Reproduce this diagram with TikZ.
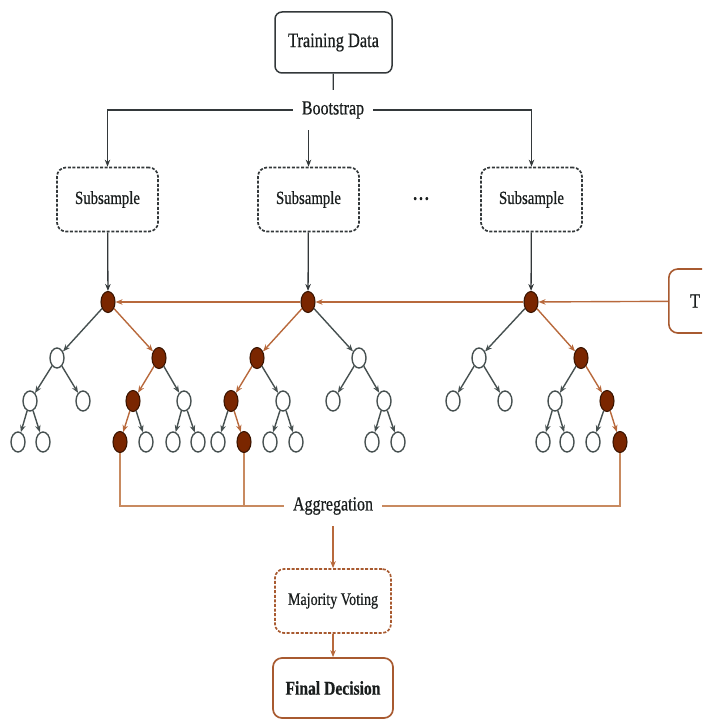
\documentclass[tikz,border=0pt]{standalone}
\usepackage{fontspec}
\setmainfont{Liberation Serif}[FakeStretch=0.8, FakeBold=0.6]
\usetikzlibrary{shapes.geometric,arrows.meta}

\definecolor{ink}{HTML}{1A1E1E}
\definecolor{darkline}{HTML}{33383A}
\definecolor{treegray}{HTML}{465050}
\definecolor{nodefill}{HTML}{7A2600}
\definecolor{nodeedge}{HTML}{3A1400}
\definecolor{brownline}{HTML}{B8693C}
\definecolor{aggline}{HTML}{C88A60}
\definecolor{brownbox}{HTML}{A85A30}

\tikzset{
  every node/.style={text=ink},
  txt/.style={font=\fontsize{20}{22}\selectfont},
  solidbox/.style={draw=darkline, line width=1.5pt, rounded corners=7pt, fill=white,
    minimum width=117pt, minimum height=61pt, font=\fontsize{20.5}{22}\selectfont},
  sampbox/.style={draw=darkline, line width=1.7pt, dash pattern=on 3pt off 1.6pt,
    rounded corners=9pt, fill=white, minimum width=101pt, minimum height=64pt,
    font=\fontsize{18.5}{20}\selectfont},
  votebox/.style={draw=brownbox, line width=1.7pt, dash pattern=on 3pt off 1.6pt,
    rounded corners=9pt, fill=white, minimum width=116pt, minimum height=64pt,
    font=\fontsize{17.6}{20}\selectfont},
  decbox/.style={draw=brownbox, line width=1.7pt, rounded corners=9pt, fill=white,
    minimum width=120pt, minimum height=60pt, font=\bfseries\fontsize{19.5}{22}\selectfont},
  label/.style={fill=white, inner xsep=9pt, inner ysep=0pt, minimum height=40pt,
    font=\fontsize{20}{22}\selectfont},
  wn/.style={ellipse, draw=treegray, fill=white, line width=1.4pt,
    minimum width=14pt, minimum height=20pt, inner sep=0pt},
  bn/.style={ellipse, draw=nodeedge, fill=nodefill, line width=1.1pt,
    minimum width=14pt, minimum height=21pt, inner sep=0pt},
  tip/.style={-{Stealth[length=7pt,width=5.5pt]}},
  gedge/.style={tip, draw=treegray, line width=1.4pt},
  bedge/.style={tip, draw=brownline, line width=1.4pt},
  topline/.style={draw=darkline, line width=1.3pt},
  aggl/.style={draw=aggline, line width=1.6pt},
}

\begin{document}
\begin{tikzpicture}[x=1pt, y=-1pt]
\useasboundingbox (0,0) rectangle (702,719);
\clip (0,0) rectangle (702,719);

% ---------- bootstrap stage ----------
\node[solidbox] (td) at (333.5,42.5) {Training Data};
\node[label] (bs) at (333,110) {Bootstrap};
\draw[topline] (td) -- (bs);

\node[sampbox] (ss1) at (107.5,199.5) {Subsample};
\node[sampbox] (ss2) at (308.5,199.5) {Subsample};
\node[sampbox] (ss3) at (531.5,199.5) {Subsample};
\node[font=\fontsize{13}{13}\selectfont, inner sep=0pt] (dots) at (421,200)
  {•\hspace{2.2pt}•\hspace{2.2pt}•};

\draw[topline, tip] (bs.west) -| (ss1);
\draw[topline, tip] (bs.east) -| (ss3);
\draw[topline, tip] (bs.south -| ss2.north) -- (ss2);

% ---------- tree 1 ----------
\node[bn] (A) at (108,302) {};
\node[wn] (AL) at (57,358) {};
\node[bn] (AR) at (159,358) {};
\node[wn] (ALL) at (30,401) {};
\node[wn] (ALR) at (83,401) {};
\node[bn] (ARL) at (133,401) {};
\node[wn] (ARR) at (184,401) {};
\node[wn] (ALLL) at (18,442) {};
\node[wn] (ALLR) at (43,442) {};
\node[bn] (ARLL) at (120,442) {};
\node[wn] (ARLR) at (146,442) {};
\node[wn] (ARRL) at (173,442) {};
\node[wn] (ARRR) at (198,442) {};

\draw[gedge] (A) -- (AL);
\draw[bedge] (A) -- (AR);
\draw[gedge] (AL) -- (ALL);
\draw[gedge] (AL) -- (ALR);
\draw[bedge] (AR) -- (ARL);
\draw[gedge] (AR) -- (ARR);
\draw[gedge] (ALL) -- (ALLL);
\draw[gedge] (ALL) -- (ALLR);
\draw[bedge] (ARL) -- (ARLL);
\draw[gedge] (ARL) -- (ARLR);
\draw[gedge] (ARR) -- (ARRL);
\draw[gedge] (ARR) -- (ARRR);

% ---------- tree 2 ----------
\node[bn] (B) at (308,302) {};
\node[bn] (BL) at (257,358) {};
\node[wn] (BR) at (359,358) {};
\node[bn] (BLL) at (231,401) {};
\node[wn] (BLR) at (283,401) {};
\node[wn] (BRL) at (333,401) {};
\node[wn] (BRR) at (384,401) {};
\node[wn] (BLLL) at (218,442) {};
\node[bn] (BLLR) at (244,442) {};
\node[wn] (BLRL) at (270,442) {};
\node[wn] (BLRR) at (296,442) {};
\node[wn] (BRRL) at (372,442) {};
\node[wn] (BRRR) at (398,442) {};

\draw[bedge] (B) -- (BL);
\draw[gedge] (B) -- (BR);
\draw[bedge] (BL) -- (BLL);
\draw[gedge] (BL) -- (BLR);
\draw[gedge] (BR) -- (BRL);
\draw[gedge] (BR) -- (BRR);
\draw[gedge] (BLL) -- (BLLL);
\draw[bedge] (BLL) -- (BLLR);
\draw[gedge] (BLR) -- (BLRL);
\draw[gedge] (BLR) -- (BLRR);
\draw[gedge] (BRR) -- (BRRL);
\draw[gedge] (BRR) -- (BRRR);

% ---------- tree 3 ----------
\node[bn] (C) at (531,302) {};
\node[wn] (CL) at (479,358) {};
\node[bn] (CR) at (581,358) {};
\node[wn] (CLL) at (453,401) {};
\node[wn] (CLR) at (505,401) {};
\node[wn] (CRL) at (555,401) {};
\node[bn] (CRR) at (607,401) {};
\node[wn] (CRLL) at (543,442) {};
\node[wn] (CRLR) at (567,442) {};
\node[wn] (CRRL) at (593,442) {};
\node[bn] (CRRR) at (620,442) {};

\draw[gedge] (C) -- (CL);
\draw[bedge] (C) -- (CR);
\draw[gedge] (CL) -- (CLL);
\draw[gedge] (CL) -- (CLR);
\draw[gedge] (CR) -- (CRL);
\draw[bedge] (CR) -- (CRR);
\draw[gedge] (CRL) -- (CRLL);
\draw[gedge] (CRL) -- (CRLR);
\draw[gedge] (CRR) -- (CRRL);
\draw[bedge] (CRR) -- (CRRR);

% subsamples feed the tree roots
\draw[topline, tip] (ss1) -- (A);
\draw[topline, tip] (ss2) -- (B);
\draw[topline, tip] (ss3) -- (C);

% ---------- test input passed to every tree ----------
\node[draw=brownbox, line width=1.6pt, rounded corners=9pt, fill=white,
  minimum width=120pt, minimum height=64pt, anchor=west] (test) at (668,301) {};
\node[txt, anchor=west, inner sep=0pt] (testlbl) at (690,301) {T};
\draw[bedge] (test) -- (C);
\draw[bedge] (C) -- (B);
\draw[bedge] (B) -- (A);

% ---------- aggregation ----------
\node[label] (ag) at (333,506) {Aggregation};
\draw[aggl] (ARLL) |- (ag);
\draw[aggl] (BLLR) -- (BLLR |- ag);
\draw[aggl] (CRRR) |- (ag);

\node[votebox] (mv) at (333,601) {Majority Voting};
\node[decbox] (fd) at (333,688) {Final Decision};
\draw[bedge] (ag) -- (mv);
\draw[bedge] (mv) -- (fd);
\end{tikzpicture}
\end{document}
